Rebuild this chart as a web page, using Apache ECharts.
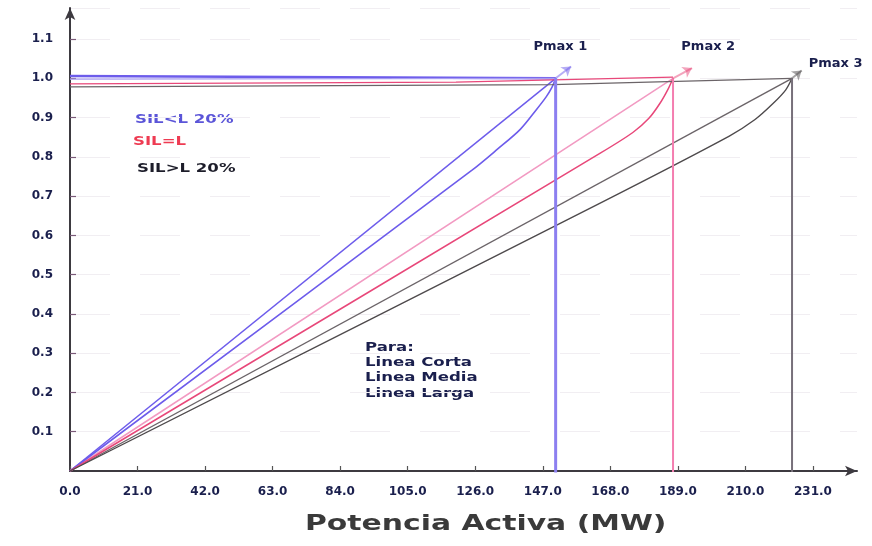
<!DOCTYPE html>
<html>
<head>
<meta charset="utf-8">
<script src="https://cdn.jsdelivr.net/npm/echarts@6/dist/echarts.min.js"></script>
<style>
  html, body { margin: 0; padding: 0; background: #fff; }
  #chart { width: 872px; height: 546px; }
</style>
</head>
<body>
<div id="chart"></div>
<script>
// Maximum transferable power for each line case (MW) at 1.0 pu
const pmaxX = [151, 187.5, 224.5];
const pmaxY = 1.0;
const pmaxNames = ['Pmax 1', 'Pmax 2', 'Pmax 3'];
// Label anchor points above each Pmax
const pmaxLabelPts = [[152.6, 1.08], [198.6, 1.08], [238.2, 1.035]];
// Short arrows leaving each Pmax point
const arrowEnds = [[155.8, 1.03], [193.4, 1.026], [227.5, 1.02]];

// Lower (bent) curves, one per case
const curveBlue = [[0, 0], [125, 0.766], [133, 0.82], [140, 0.87], [145, 0.92], [148, 0.952], [149.8, 0.976], [151, 1.0]];
const curvePink = [[0, 0], [165, 0.81], [175, 0.862], [180, 0.898], [183.5, 0.937], [186, 0.973], [187.5, 1.0]];
const curveBlack = [[0, 0], [165, 0.683], [205, 0.853], [213, 0.895], [218.5, 0.935], [222.5, 0.97], [224.5, 1.0]];

// Near-1.0 voltage lines from the axis to each Pmax
const flatBlue = [[0, 1.006], [151, 1.0]];
const flatBlue2 = [[0, 0.998], [100, 0.999], [151, 1.0]];
const flatPink = [[0, 0.986], [120, 0.99], [187.5, 1.003]];
const flatBlack = [[0, 0.978], [150, 0.984], [224.5, 1.0]];

const legendTexts = ['SIL<L 20%', 'SIL=L', 'SIL>L 20%'];
const noteLines = ['Para:', 'Linea Corta', 'Linea Media', 'Linea Larga'];
const xTitle = 'Potencia Activa (MW)';

const BLUE = '#6d5ceb';
const BLUE_V = '#8c7ff0';
const PINK_L = '#f29ac2';
const PINK = '#e8487a';
const PINK_V = '#f47eb0';
const GREY = '#6b6468';
const GREY_D = '#4e4a4c';

const FONT = '"DejaVu Sans", "Liberation Sans", Arial, sans-serif';
const tickText = {
  color: '#1a1f4d',
  fontFamily: FONT,
  fontWeight: 'bold',
  fontSize: 12,
  textShadowColor: 'rgba(238,160,60,0.6)',
  textShadowOffsetX: -1,
  textShadowBlur: 0
};

function lineSeries(data, color, width, smooth) {
  return {
    type: 'line', data: data, symbol: 'none', smooth: smooth || false,
    lineStyle: { color: color, width: width }, z: 3, silent: true
  };
}

function wideText(left, top, text, fill, extra) {
  return {
    type: 'text', left: left, top: top, scaleX: 1.38, scaleY: 1,
    style: Object.assign({}, tickText, { text: text, fill: fill }, extra || {})
  };
}

const series = [
  // straight lines from origin to each Pmax
  lineSeries([[0, 0], [pmaxX[0], pmaxY]], BLUE, 1.5),
  lineSeries([[0, 0], [pmaxX[1], pmaxY]], PINK_L, 1.5),
  lineSeries([[0, 0], [pmaxX[2], pmaxY]], GREY, 1.4),
  // bent curves
  lineSeries(curveBlue, BLUE, 1.6, 0.3),
  lineSeries(curvePink, PINK, 1.5, 0.3),
  lineSeries(curveBlack, GREY_D, 1.4, 0.3),
  // flat lines near 1.0
  lineSeries(flatBlue, BLUE, 2.4),
  lineSeries(flatBlue2, '#a79cf2', 1.2),
  lineSeries(flatPink, PINK, 1.3),
  lineSeries(flatBlack, GREY, 1.2),
  // vertical drops from Pmax to the axis
  lineSeries([[pmaxX[0], pmaxY], [pmaxX[0], -0.005]], BLUE_V, 3),
  lineSeries([[pmaxX[1], pmaxY], [pmaxX[1], -0.005]], PINK_V, 2),
  lineSeries([[pmaxX[2], pmaxY], [pmaxX[2], -0.005]], '#77707a', 2),
  {
    type: 'lines', coordinateSystem: 'cartesian2d', silent: true, z: 4,
    symbol: ['none', 'arrow'], symbolSize: 9,
    data: [0, 1, 2].map(i => ({
      coords: [[pmaxX[i], pmaxY], arrowEnds[i]],
      lineStyle: { color: [BLUE, PINK, GREY_D][i], width: 2 }
    }))
  },
  {
    type: 'scatter', symbol: 'circle', symbolSize: 1, silent: true, z: 5,
    itemStyle: { color: '#ffffff', opacity: 0 },
    data: pmaxLabelPts.map((p, i) => ({ value: p, name: pmaxNames[i] })),
    label: Object.assign({
      show: true, position: [0, 0], align: 'center', verticalAlign: 'middle',
      formatter: '{b}', opacity: 1
    }, tickText, { fontSize: 13 })
  }
];

const chart = echarts.init(document.getElementById('chart'), null, { renderer: 'canvas' });
chart.setOption({
  animation: false,
  backgroundColor: '#ffffff',
  grid: { left: 70, right: 15, top: 8, bottom: 75 },
  xAxis: {
    type: 'value', min: 0, max: 244.7, interval: 21,
    axisLine: { show: true, symbol: ['none', 'arrow'], symbolSize: [8, 12], lineStyle: { color: '#3d3a40', width: 2 } },
    axisTick: { show: true, inside: true, length: 5, lineStyle: { color: '#555', width: 1.2 } },
    axisLabel: Object.assign({ margin: 15, showMaxLabel: false, formatter: v => v.toFixed(1) }, tickText),
    splitLine: { show: false }
  },
  yAxis: {
    type: 'value', min: 0, max: 1.179, interval: 0.1,
    axisLine: { show: true, symbol: ['none', 'arrow'], symbolSize: [8, 12], lineStyle: { color: '#3d3a40', width: 2 } },
    axisTick: { show: true, inside: true, length: 6, lineStyle: { color: '#7a5a78', width: 1.2 } },
    axisLabel: Object.assign({ margin: 17, showMaxLabel: false, showMinLabel: false, formatter: v => v.toFixed(1) }, tickText),
    splitLine: { show: true, lineStyle: { color: '#f1eef2', width: 1, type: [40, 30] } }
  },
  graphic: [
    wideText(135, 114, legendTexts[0], '#5b55d8', { textShadowColor: 'rgba(160,170,255,0.5)' }),
    wideText(133, 136, legendTexts[1], '#ee3b52', { textShadowColor: 'rgba(250,170,180,0.6)' }),
    wideText(137, 163, legendTexts[2], '#1d1d2a'),
    wideText(365, 340, noteLines.join('\n'), '#1a1f4d', { lineHeight: 15.3 }),
    {
      type: 'text', left: 305, top: 514, scaleX: 1.42, scaleY: 1,
      style: { text: xTitle, fill: '#3a3a3a', fontSize: 21, fontWeight: 'bold', fontFamily: FONT }
    }
  ],
  series: series
});
</script>
</body>
</html>
